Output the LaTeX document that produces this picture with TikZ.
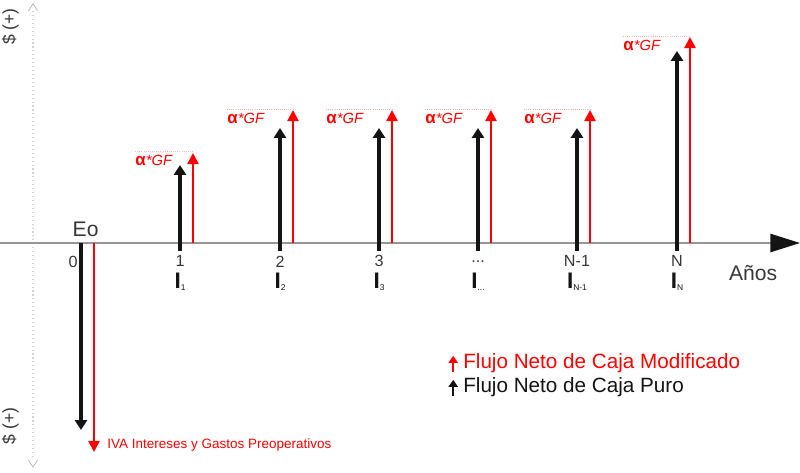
\documentclass[tikz,border=0pt]{standalone}
\usepackage{fontspec}
\setmainfont{Liberation Sans}
\usepackage{tikz}
\usetikzlibrary{arrows.meta}
\definecolor{flujored}{RGB}{255,0,0}
\definecolor{flujoblack}{RGB}{20,20,20}
\definecolor{axisgray}{RGB}{150,150,150}
\definecolor{textgray}{RGB}{55,55,55}
\tikzset{
  puro/.style={draw=flujoblack, line width=2.3pt, -{Triangle[length=7pt,width=8.5pt]}},
  modif/.style={draw=flujored, line width=1.7pt, -{Triangle[length=8pt,width=8pt]}},
  periodo/.style={font=\fontsize{11.5}{12}\selectfont, text=textgray, inner sep=0pt},
  inversion/.style={font=\bfseries\fontsize{16}{16}\selectfont, text=flujoblack, inner sep=0pt},
  ahorro/.style={font=\fontsize{10.5}{11}\selectfont, text=flujored, inner sep=0pt, anchor=east},
  guia/.style={draw=flujored!30, densely dotted, line width=0.5pt},
  leyenda/.style={font=\fontsize{14.7}{15}\selectfont, inner sep=0pt, anchor=west},
}
\newcommand{\subI}[1]{I\raisebox{-1.5pt}{\mdseries\fontsize{6}{6}\selectfont #1}}
\newcommand{\alfaGF}{{\bfseries\fontsize{12}{12}\selectfont α}\textit{*GF}}
\begin{document}
\begin{tikzpicture}
	\useasboundingbox (0,-5.725) rectangle (20,6.075);
	% Axes:
	\coordinate (Ytop) at (0.825,5.8);
	\coordinate (Ybot) at (0.825,-5.4);
	\draw[gray!35, dotted, line width=0.8pt] (Ytop) -- (Ybot);
	\draw[gray!60, line width=0.5pt] (0.71,5.8) -- (0.825,5.98) -- (0.94,5.8);
	\draw[gray!60, line width=0.5pt] (0.71,-5.43) -- (0.825,-5.6) -- (0.94,-5.43);
	\node[font=\fontsize{12.5}{13}\selectfont, text=textgray, rotate=90, inner sep=0pt](D1) at (0.26, 5.41){\$ (+)};
	\node[font=\fontsize{12.5}{13}\selectfont, text=textgray, rotate=90, inner sep=0pt](D2) at (0.26, -4.575){\$ (+)};
	\coordinate (O) at (0,0);
	\coordinate (Xend) at (20,0);
	\draw[draw=axisgray, line width=1pt, -{Triangle[length=21pt,width=13pt,color=flujoblack]}] (O) -- (Xend);
	\node[font=\fontsize{15}{15}\selectfont, text=textgray, inner sep=0pt](Anos) at (18.83, -0.75){Años};

	% Period 0:
	\coordinate (P0) at (2.025,0);
	\coordinate (P0b) at (2.025,-4.675);
	\coordinate (Q0) at (2.35,0);
	\coordinate (Q0b) at (2.35,-5.225);
	\draw[puro] (P0) -- (P0b);
	\draw[modif] (Q0) -- (Q0b);
	\node[font=\fontsize{15}{15}\selectfont, text=textgray, inner sep=0pt](Eo) at (2.14, 0.34){Eo};
	\node[periodo](T0) at (1.825, -0.48){0};
	\node[font=\fontsize{9.6}{10}\selectfont, text=flujored, inner sep=0pt, anchor=west](IVA) at (2.675, -5.05){IVA Intereses y Gastos Preoperativos};

	% Periods 1 .. N:
	\coordinate (P1) at (4.5,-0.2);
	\coordinate (P1t) at (4.5,1.95);
	\coordinate (Q1) at (4.825,0);
	\coordinate (Q1t) at (4.825,2.25);
	\draw[puro] (P1) -- (P1t);
	\draw[modif] (Q1) -- (Q1t);
	\node[ahorro](A1) at (4.325, 2.075){\alfaGF};
	\draw[guia] ([yshift=2pt]A1.north west) -- ([yshift=2pt]A1.north west -| Q1t);
	\node[periodo](T1) at (4.5, -0.46){1};
	\node[inversion](I1) at (4.5, -0.97){\subI{1}};

	\coordinate (P2) at (7,-0.2);
	\coordinate (P2t) at (7,2.875);
	\coordinate (Q2) at (7.325,0);
	\coordinate (Q2t) at (7.325,3.325);
	\draw[puro] (P2) -- (P2t);
	\draw[modif] (Q2) -- (Q2t);
	\node[ahorro](A2) at (6.625, 3.125){\alfaGF};
	\draw[guia] ([yshift=2pt]A2.north west) -- ([yshift=2pt]A2.north west -| Q2t);
	\node[periodo](T2) at (7, -0.46){2};
	\node[inversion](I2) at (7, -0.97){\subI{2}};

	\coordinate (P3) at (9.475,-0.2);
	\coordinate (P3t) at (9.475,2.875);
	\coordinate (Q3) at (9.8,0);
	\coordinate (Q3t) at (9.8,3.325);
	\draw[puro] (P3) -- (P3t);
	\draw[modif] (Q3) -- (Q3t);
	\node[ahorro](A3) at (9.1, 3.125){\alfaGF};
	\draw[guia] ([yshift=2pt]A3.north west) -- ([yshift=2pt]A3.north west -| Q3t);
	\node[periodo](T3) at (9.475, -0.46){3};
	\node[inversion](I3) at (9.475, -0.97){\subI{3}};

	\coordinate (P4) at (11.95,-0.2);
	\coordinate (P4t) at (11.95,2.875);
	\coordinate (Q4) at (12.275,0);
	\coordinate (Q4t) at (12.275,3.325);
	\draw[puro] (P4) -- (P4t);
	\draw[modif] (Q4) -- (Q4t);
	\node[ahorro](A4) at (11.575, 3.125){\alfaGF};
	\draw[guia] ([yshift=2pt]A4.north west) -- ([yshift=2pt]A4.north west -| Q4t);
	\node[periodo](T4) at (11.95, -0.46){...};
	\node[inversion](I4) at (11.95, -0.97){\subI{...}};

	\coordinate (P5) at (14.425,-0.2);
	\coordinate (P5t) at (14.425,2.875);
	\coordinate (Q5) at (14.75,0);
	\coordinate (Q5t) at (14.75,3.325);
	\draw[puro] (P5) -- (P5t);
	\draw[modif] (Q5) -- (Q5t);
	\node[ahorro](A5) at (14.05, 3.125){\alfaGF};
	\draw[guia] ([yshift=2pt]A5.north west) -- ([yshift=2pt]A5.north west -| Q5t);
	\node[periodo](T5) at (14.425, -0.46){N-1};
	\node[inversion](I5) at (14.425, -0.97){\subI{N-1}};

	\coordinate (PN) at (16.925,-0.2);
	\coordinate (PNt) at (16.925,4.8);
	\coordinate (QN) at (17.25,0);
	\coordinate (QNt) at (17.25,5.15);
	\draw[puro] (PN) -- (PNt);
	\draw[modif] (QN) -- (QNt);
	\node[ahorro](AN) at (16.525, 4.95){\alfaGF};
	\draw[guia] ([yshift=2pt]AN.north west) -- ([yshift=2pt]AN.north west -| QNt);
	\node[periodo](TN) at (16.925, -0.46){N};
	\node[inversion](IN) at (16.925, -0.97){\subI{N}};

	% Legend:
	\node[leyenda, text=flujored](L1) at (11.575, -3.0){Flujo Neto de Caja Modificado};
	\node[leyenda, text=flujoblack](L2) at (11.575, -3.6){Flujo Neto de Caja Puro};
	\coordinate (L1a) at (11.33,-3.22);
	\coordinate (L1b) at (11.33,-2.82);
	\coordinate (L2a) at (11.33,-3.82);
	\coordinate (L2b) at (11.33,-3.42);
	\draw[draw=flujored, line width=1.5pt, -{Triangle[length=5pt,width=6.5pt]}] (L1a) -- (L1b);
	\draw[draw=flujoblack, line width=1.5pt, -{Triangle[length=5pt,width=6.5pt]}] (L2a) -- (L2b);
\end{tikzpicture}
\end{document}
